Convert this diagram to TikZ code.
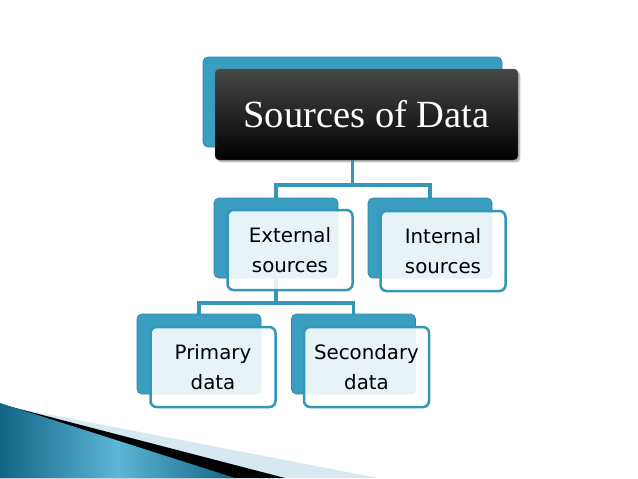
\documentclass[tikz,border=0pt]{standalone}
\usepackage{fontspec}
\usepackage{xcolor}
\setmainfont{Liberation Serif}
\newfontfamily\boxfont{DejaVu Sans}
\usetikzlibrary{shadows}

\definecolor{tealbox}{RGB}{58,158,192}
\definecolor{tealline}{RGB}{52,150,185}
\definecolor{wedgedark}{RGB}{18,100,133}
\definecolor{wedgelight}{RGB}{92,182,214}
\definecolor{wedgepale}{RGB}{214,233,241}

\pgfdeclarelayer{background}
\pgfsetlayers{background,main}

\begin{document}
\begin{tikzpicture}[x=1pt,y=-1pt,every path/.style={>=latex},
	backbox/.style={rectangle,rounded corners=5pt,fill=tealbox,draw=tealbox!85!black,line width=0.8pt,minimum width=124pt,minimum height=80pt,inner sep=0pt},
	frontbox/.style={rectangle,rounded corners=6pt,draw=tealline,line width=2.5pt,fill=white,fill opacity=0.88,text opacity=1,minimum width=125pt,minimum height=80pt,inner sep=0pt,align=center,text=black,font=\boxfont\fontsize{19.8}{30}\selectfont},
	conn/.style={draw=tealline,line width=3.5pt}]
		\useasboundingbox (0,0) rectangle (638,479);
	
		% draw wedge in the bottom left corner
		\fill[wedgepale] (0,405) -- (378,478) -- (0,478) -- cycle;
		\fill[black] (0,404) -- (285,478) -- (0,478) -- cycle;
		\shade[left color=wedgedark,right color=wedgedark,middle color=wedgelight] (0,403) -- (235,478) -- (0,478) -- cycle;
	
		% draw top box
		\node (data-b) at (352.5,102) [backbox,minimum width=299pt,minimum height=90pt] {};
		\node (data) at (366.5,114.5) [rectangle,rounded corners=4pt,top color=black!72,bottom color=black,draw=black!60,minimum width=303pt,minimum height=91pt,drop shadow,text=white,font=\fontsize{38.5}{44}\selectfont] {Sources of Data};
	
		% draw second row
		\node (ext-b) at (276,238) [backbox] {};
		\node (ext) at (290,250) [frontbox] {External\\sources};
		\node (int-b) at (430,238) [backbox] {};
		\node (int) at (443,251) [frontbox] {Internal\\sources};
	
		% draw third row
		\node (prim-b) at (199,354) [backbox] {};
		\node (prim) at (213,367) [frontbox] {Primary\\data};
		\node (sec-b) at (353.5,354) [backbox] {};
		\node (sec) at (366.5,367) [frontbox] {Secondary\\data};
	
		% draw connectors behind the boxes
		\coordinate (j1) at (352,185);
		\coordinate (j2) at (276,303);
		\begin{pgfonlayer}{background}
			\draw[conn] (data-b.south) -- (data-b.south |- j1) -| (ext-b.north);
			\draw[conn] (data-b.south |- j1) -| (int-b.north);
			\draw[conn] (ext-b.south) -- (ext-b.south |- j2) -| (prim-b.north);
			\draw[conn] (ext-b.south |- j2) -| (sec-b.north);
		\end{pgfonlayer}
	\end{tikzpicture}
\end{document}
